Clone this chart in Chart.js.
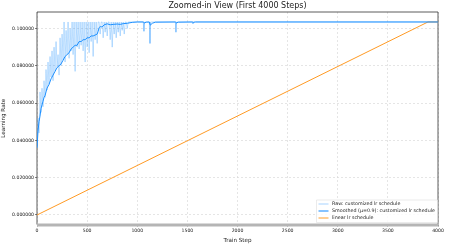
<!DOCTYPE html>
<html>
<head>
<meta charset="utf-8">
<script src="https://cdn.jsdelivr.net/npm/chart.js@4"></script>
<style>
  html, body { margin: 0; padding: 0; background: #fff; }
  #wrap { width: 449px; height: 244px; }
</style>
</head>
<body>
<div id="wrap"><canvas id="lrChart"></canvas></div>
<script>
// raw lr samples (steps 0..1000 every 10, then the dips)
const rawSteps = [
  0, 10, 20, 30, 40, 50, 60, 70, 80, 90,
  100, 110, 120, 130, 140, 150, 160, 170, 180, 190,
  200, 210, 220, 230, 240, 250, 260, 270, 280, 290,
  300, 310, 320, 330, 340, 350, 360, 370, 380, 390,
  400, 410, 420, 430, 440, 450, 460, 470, 480, 490,
  500, 510, 520, 530, 540, 550, 560, 570, 580, 590,
  600, 610, 620, 630, 640, 650, 660, 670, 680, 690,
  700, 710, 720, 730, 740, 750, 760, 770, 780, 790,
  800, 810, 820, 830, 840, 850, 860, 870, 880, 890,
  900, 910, 920, 950, 1000, 1060, 1067, 1074, 1120, 1127,
  1134, 1380, 1386, 1392, 1550, 1556, 1562, 4000
];
const rawLr = [
  0.036, 0.052, 0.044, 0.066, 0.055, 0.068, 0.058, 0.072, 0.063, 0.078,
  0.067, 0.082, 0.070, 0.085, 0.074, 0.088, 0.072, 0.090, 0.077, 0.093,
  0.079, 0.086, 0.075, 0.095, 0.080, 0.097, 0.083, 0.1035, 0.082, 0.099,
  0.086, 0.1035, 0.084, 0.100, 0.088, 0.1035, 0.086, 0.1035, 0.077, 0.1035,
  0.090, 0.1035, 0.089, 0.1035, 0.091, 0.1035, 0.088, 0.1035, 0.082, 0.1035,
  0.090, 0.1035, 0.087, 0.1035, 0.093, 0.1035, 0.085, 0.1035, 0.094, 0.1035,
  0.092, 0.1035, 0.1035, 0.097, 0.1035, 0.1035, 0.095, 0.1035, 0.098, 0.1035,
  0.096, 0.1035, 0.1035, 0.094, 0.1035, 0.090, 0.1035, 0.097, 0.1035, 0.095,
  0.1035, 0.098, 0.1035, 0.096, 0.1035, 0.099, 0.1035, 0.097, 0.1035, 0.1035,
  0.100, 0.1035, 0.1035, 0.1035, 0.1035, 0.1035, 0.0985, 0.1035, 0.1035, 0.092,
  0.1035, 0.1035, 0.098, 0.1035, 0.1035, 0.1025, 0.1035, 0.1035
];

// EMA (mu=0.9) curve
const smoothSteps = [
  0, 10, 20, 30, 40, 50, 60, 70, 80, 90,
  100, 120, 140, 160, 180, 200, 220, 240, 260, 280,
  300, 320, 340, 360, 380, 400, 420, 440, 460, 480,
  500, 520, 540, 560, 580, 600, 610, 620, 630, 650,
  670, 700, 730, 760, 800, 830, 860, 900, 950, 1000,
  1060, 1070, 1090, 1120, 1130, 1150, 1180, 1380, 1390, 1410,
  1550, 1560, 1580, 4000
];
const smoothLr = [
  0.036, 0.045, 0.050, 0.053, 0.057, 0.059, 0.061, 0.063, 0.064, 0.066,
  0.068, 0.070, 0.073, 0.075, 0.077, 0.079, 0.080, 0.081, 0.083, 0.085,
  0.086, 0.087, 0.089, 0.090, 0.091, 0.091, 0.093, 0.093, 0.094, 0.094,
  0.095, 0.095, 0.096, 0.096, 0.0965, 0.097, 0.0985, 0.1005, 0.1010, 0.1008,
  0.1020, 0.1025, 0.1020, 0.1022, 0.1024, 0.1022, 0.1026, 0.1028, 0.1033, 0.1035,
  0.1035, 0.1030, 0.1034, 0.1035, 0.1018, 0.1028, 0.1034, 0.1035, 0.1030, 0.1034,
  0.1035, 0.1033, 0.1035, 0.1035
];

const linearSteps = [0, 3900, 4000];
const linearLr = [0, 0.1035, 0.1035];

const yTicks = [0, 0.02, 0.04, 0.06, 0.08, 0.1];
const xTicks = [0, 500, 1000, 1500, 2000, 2500, 3000, 3500, 4000];

const seriesLabels = [
  'Raw: customized lr schedule',
  'Smoothed (\u03bc=0.9): customized lr schedule',
  'linear lr schedule'
];

const toPoints = (xs, ys) => xs.map((x, i) => ({ x, y: ys[i] }));

const FONT = 'DejaVu Sans';

// matplotlib-style frame, title and legend
const decor = {
  id: 'decor',
  beforeDatasetsDraw(chart) {
    const { ctx, chartArea: a } = chart;
    ctx.save();
    ctx.strokeStyle = '#333';
    ctx.lineWidth = 0.8;
    ctx.beginPath();
    ctx.moveTo(a.left, a.bottom);
    ctx.lineTo(a.left, a.top);
    ctx.lineTo(a.right, a.top);
    ctx.lineTo(a.right, a.bottom);
    ctx.stroke();
    ctx.fillStyle = '#b5b5b5';
    ctx.fillRect(a.left, a.bottom - 1, a.right - a.left + 0.5, 3);
    ctx.restore();
  },
  afterDraw(chart) {
    const { ctx, chartArea: a } = chart;
    ctx.save();
    ctx.fillStyle = '#222';
    ctx.font = `8px "${FONT}"`;
    ctx.textAlign = 'center';
    ctx.textBaseline = 'middle';
    ctx.fillText('Zoomed-in View (First 4000 Steps)', (a.left + a.right) / 2, 6);

    // legend box
    const bx = 316.5, by = 200, bw = 121, bh = 22.5;
    ctx.fillStyle = 'rgba(255,255,255,0.85)';
    ctx.strokeStyle = '#ddd';
    ctx.lineWidth = 0.6;
    ctx.beginPath();
    ctx.rect(bx, by, bw, bh);
    ctx.fill();
    ctx.stroke();
    ctx.font = `4.8px "${FONT}"`;
    ctx.textAlign = 'left';
    chart.data.datasets.forEach((ds, i) => {
      const y = by + 4 + i * 7;
      ctx.strokeStyle = ds.legendColor;
      ctx.lineWidth = 1.8;
      ctx.beginPath();
      ctx.moveTo(bx + 2, y);
      ctx.lineTo(bx + 12, y);
      ctx.stroke();
      ctx.fillStyle = '#222';
      ctx.fillText(ds.label, bx + 15.5, y);
    });
    ctx.restore();
  }
};

new Chart(document.getElementById('lrChart'), {
  type: 'line',
  data: {
    datasets: [
      {
        label: seriesLabels[0],
        data: toPoints(rawSteps, rawLr),
        borderColor: 'rgba(30,144,255,0.28)',
        legendColor: 'rgba(30,144,255,0.22)',
        borderWidth: 1,
        pointRadius: 0,
        tension: 0
      },
      {
        label: seriesLabels[1],
        data: toPoints(smoothSteps, smoothLr),
        borderColor: '#1e90ff',
        legendColor: 'rgba(30,144,255,0.6)',
        borderWidth: 1,
        pointRadius: 0,
        tension: 0
      },
      {
        label: seriesLabels[2],
        data: toPoints(linearSteps, linearLr),
        borderColor: '#ff9a24',
        legendColor: 'rgba(255,154,36,0.55)',
        borderWidth: 1,
        pointRadius: 0,
        tension: 0
      }
    ]
  },
  options: {
    responsive: true,
    maintainAspectRatio: false,
    animation: false,
    layout: { padding: { top: 12, right: 11, left: 0, bottom: 0 } },
    plugins: {
      legend: { display: false },
      title: { display: false },
      tooltip: { enabled: false }
    },
    scales: {
      x: {
        type: 'linear',
        min: 0,
        max: 4000,
        afterBuildTicks: s => { s.ticks = xTicks.map(v => ({ value: v })); },
        afterFit: s => { s.height = 19.5; },
        border: { display: false, dash: [2, 2] },
        grid: { color: '#d4d4d4', lineWidth: 0.6, tickLength: 2, tickColor: '#333', drawTicks: true },
        ticks: {
          color: '#222', padding: 1.5, maxRotation: 0,
          font: { family: FONT, size: 4.6 },
          callback: v => String(v)
        },
        title: { display: true, text: 'Train Step', color: '#222', padding: 0, font: { family: FONT, size: 5.6 } }
      },
      y: {
        min: -0.0051,
        max: 0.10885,
        afterBuildTicks: s => { s.ticks = yTicks.map(v => ({ value: v })); },
        afterFit: s => { s.width = 37; },
        border: { display: false, dash: [2, 2] },
        grid: { color: '#d4d4d4', lineWidth: 0.6, tickLength: 2, tickColor: '#333' },
        ticks: {
          color: '#222', padding: 1,
          font: { family: FONT, size: 4.6 },
          callback: v => v.toFixed(6)
        },
        title: { display: true, text: 'Learning Rate', color: '#222', padding: 0, font: { family: FONT, size: 5.6 } }
      }
    }
  },
  plugins: [decor]
});
</script>
</body>
</html>
